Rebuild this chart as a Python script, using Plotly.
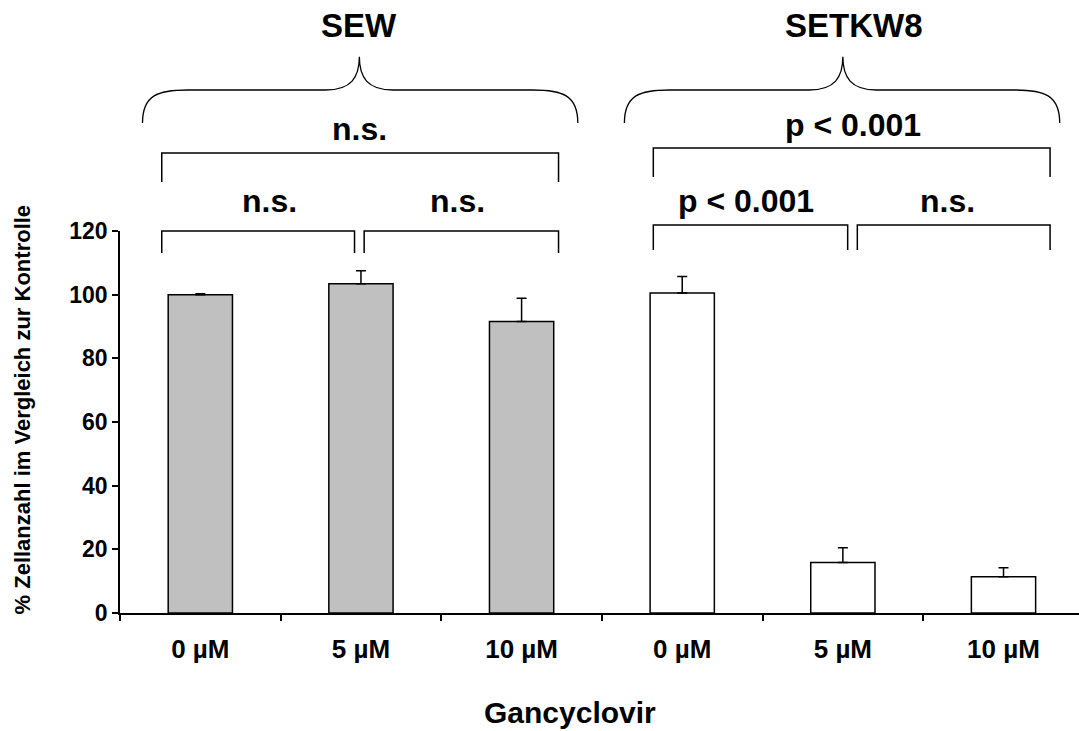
import plotly.graph_objects as go

# ---------------- data ----------------
groups = ["SEW", "SETKW8"]
conc_labels = ["0 µM", "5 µM", "10 µM", "0 µM", "5 µM", "10 µM"]
sew_values = [100.0, 103.4, 91.6]
sew_errors = [0.3, 4.1, 7.3]
setkw8_values = [100.5, 15.9, 11.4]
setkw8_errors = [5.2, 4.6, 2.8]
y_ticks = [0, 20, 40, 60, 80, 100, 120]

# significance brackets: (x_start, x_end, y_top, y_end, label, label_x, label_y)
brackets = [
    (-0.24, 2.23, 144.5, 135.4, "n.s.", 0.99, 152.1),
    (-0.24, 0.96, 120.0, 113.1, "n.s.", 0.43, 129.4),
    (1.02, 2.23, 120.0, 113.1, "n.s.", 1.60, 129.4),
    (2.82, 5.29, 146.1, 137.0, "p < 0.001", 4.06, 153.3),
    (2.82, 4.03, 121.9, 114.0, "p < 0.001", 3.40, 129.4),
    (4.09, 5.29, 121.9, 114.0, "n.s.", 4.65, 129.4),
]
# curly braces: (x_start, x_end, x_tip, y_end, y_mid, y_tip, title, title_x, title_y)
braces = [
    (-0.36, 2.35, 0.99, 153.9, 164.3, 174.7, "SEW", 0.99, 184.7),
    (2.64, 5.35, 4.00, 153.9, 164.3, 174.7, "SETKW8", 4.07, 184.7),
]

X_MIN, X_MAX = -0.5, 5.47
Y_MIN, Y_MAX = 0, 120
FONT = "Arial, 'Liberation Sans', sans-serif"


def px(x):
    return (x - X_MIN) / (X_MAX - X_MIN)


def py(y):
    return (y - Y_MIN) / (Y_MAX - Y_MIN)


x_sew = [0, 1, 2]
x_setkw8 = [3, 4, 5]

fig = go.Figure()
fig.add_trace(go.Bar(
    x=x_sew, y=sew_values, width=0.4, name=groups[0],
    marker=dict(color="#c0c0c0", line=dict(color="black", width=1.5)),
    error_y=dict(type="data", array=sew_errors, arrayminus=[0] * 3, symmetric=False,
                 color="black", thickness=1.5, width=5),
))
fig.add_trace(go.Bar(
    x=x_setkw8, y=setkw8_values, width=0.4, name=groups[1],
    marker=dict(color="white", line=dict(color="black", width=1.5)),
    error_y=dict(type="data", array=setkw8_errors, arrayminus=[0] * 3, symmetric=False,
                 color="black", thickness=1.5, width=5),
))

shapes = []
annotations = []
for x0, x1, yt, ye, lab, lx, ly in brackets:
    path = (f"M {px(x0)},{py(ye)} L {px(x0)},{py(yt)} "
            f"L {px(x1)},{py(yt)} L {px(x1)},{py(ye)}")
    shapes.append(dict(type="path", xref="paper", yref="paper", path=path,
                       line=dict(color="black", width=1.5)))
    annotations.append(dict(xref="paper", yref="paper", x=px(lx), y=py(ly),
                            text=lab, showarrow=False, xanchor="center", yanchor="middle",
                            font=dict(size=32, family=FONT, color="black", weight="bold")))

dxc = 0.28   # horizontal extent of end curves (data units)
dxt = 0.21   # horizontal extent of tip curves
for x0, x1, xt, ye, ym, ytp, title, tx, ty in braces:
    P = lambda x, y: f"{px(x)},{py(y)}"
    path = (f"M {P(x0, ye)} C {P(x0, ym - 1.5)} {P(x0 + 0.1, ym)} {P(x0 + dxc, ym)} "
            f"L {P(xt - dxt, ym)} C {P(xt - 0.05, ym)} {P(xt, ym + 4)} {P(xt, ytp)} "
            f"C {P(xt, ym + 4)} {P(xt + 0.05, ym)} {P(xt + dxt, ym)} "
            f"L {P(x1 - dxc, ym)} C {P(x1 - 0.1, ym)} {P(x1, ym - 1.5)} {P(x1, ye)}")
    shapes.append(dict(type="path", xref="paper", yref="paper", path=path,
                       line=dict(color="black", width=1.3)))
    annotations.append(dict(xref="paper", yref="paper", x=px(tx), y=py(ty),
                            text=title, showarrow=False, xanchor="center", yanchor="middle",
                            font=dict(size=33, family=FONT, color="black", weight="bold")))

# axis titles
annotations.append(dict(xref="paper", yref="paper", x=px(2.30), y=py(-31.4),
                        text="Gancyclovir", showarrow=False, xanchor="center", yanchor="middle",
                        font=dict(size=30, family=FONT, color="black", weight="bold")))
annotations.append(dict(xref="paper", yref="paper", x=-0.102, y=py(64),
                        text="% Zellanzahl im Vergleich zur Kontrolle", textangle=-90,
                        showarrow=False, xanchor="center", yanchor="middle",
                        font=dict(size=22, family=FONT, color="black", weight="bold")))

fig.update_layout(
    width=1079, height=731,
    margin=dict(l=120, r=0, t=231, b=118),
    paper_bgcolor="white", plot_bgcolor="white",
    showlegend=False,
    shapes=shapes, annotations=annotations,
    font=dict(family=FONT, color="black"),
    xaxis=dict(
        range=[X_MIN, X_MAX], showgrid=False, zeroline=False,
        showline=True, linecolor="black", linewidth=1.5,
        tickmode="array", tickvals=x_sew + x_setkw8, ticktext=conc_labels,
        ticks="", ticklabelstandoff=12,
        tickfont=dict(size=26, family=FONT, color="black", weight="bold"),
        minor=dict(tickmode="array", tickvals=[-0.5, 0.5, 1.5, 2.5, 3.5, 4.5],
                   ticks="outside", ticklen=6, tickwidth=1.5, tickcolor="black"),
    ),
    yaxis=dict(
        range=[Y_MIN, Y_MAX], showgrid=False, zeroline=False,
        showline=True, linecolor="black", linewidth=1.5,
        tickmode="array", tickvals=y_ticks,
        ticks="outside", ticklen=6, tickwidth=1.5, tickcolor="black",
        tickfont=dict(size=23, family=FONT, color="black", weight="bold"),
    ),
)

fig.write_html("out.html")
